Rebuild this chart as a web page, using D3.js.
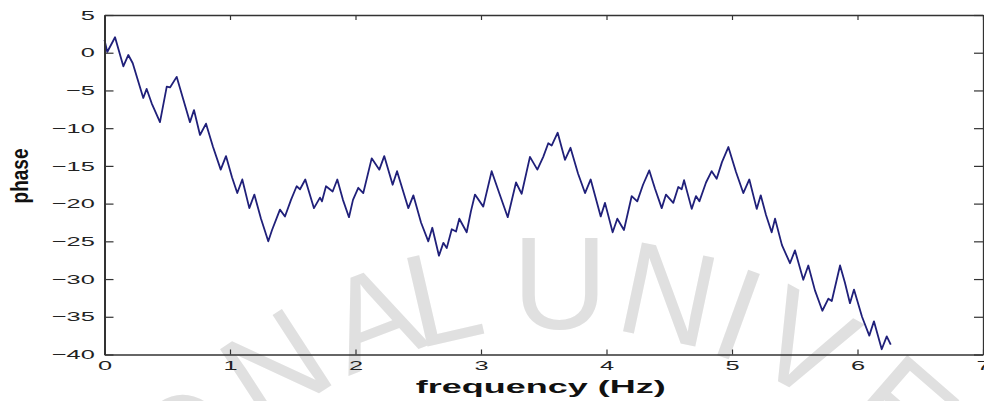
<!DOCTYPE html>
<html>
<head>
<meta charset="utf-8">
<script src="https://cdn.jsdelivr.net/npm/d3@7"></script>
<style>
  html, body { margin: 0; padding: 0; background: #fff; }
  svg { display: block; font-family: "Liberation Sans", Arial, sans-serif; }
</style>
</head>
<body>
<svg id="chart" width="984" height="401"></svg>
<script>
// ---- data ----
const freq = [
  0.000, 0.022, 0.084, 0.150, 0.190, 0.225, 0.309, 0.336, 0.376, 0.442,
  0.496, 0.522, 0.575, 0.628, 0.681, 0.713, 0.761, 0.809, 0.865, 0.926,
  0.968, 1.016, 1.058, 1.098, 1.154, 1.194, 1.247, 1.305, 1.335, 1.398,
  1.438, 1.486, 1.531, 1.558, 1.600, 1.669, 1.717, 1.733, 1.765, 1.818,
  1.855, 1.900, 1.948, 1.980, 2.022, 2.062, 2.129, 2.190, 2.229, 2.296,
  2.331, 2.421, 2.461, 2.522, 2.580, 2.612, 2.665, 2.700, 2.727, 2.767,
  2.801, 2.827, 2.886, 2.920, 2.952, 3.018, 3.085, 3.143, 3.213, 3.279,
  3.324, 3.390, 3.449, 3.496, 3.536, 3.563, 3.611, 3.669, 3.713, 3.773,
  3.829, 3.874, 3.954, 3.988, 4.049, 4.086, 4.139, 4.201, 4.245, 4.291,
  4.341, 4.386, 4.440, 4.474, 4.532, 4.572, 4.599, 4.618, 4.679, 4.713,
  4.740, 4.793, 4.838, 4.878, 4.920, 4.971, 5.032, 5.090, 5.138, 5.197,
  5.229, 5.271, 5.316, 5.343, 5.398, 5.462, 5.502, 5.568, 5.608, 5.661,
  5.720, 5.768, 5.795, 5.861, 5.900, 5.940, 5.972, 6.036, 6.094, 6.131,
  6.193, 6.233, 6.265
];
const phase = [
  1.7, 0.1, 2.05, -1.8, -0.3, -1.4, -6.0, -4.8, -6.7, -9.2,
  -4.5, -4.6, -3.2, -6.2, -9.2, -7.6, -10.9, -9.4, -12.5, -15.5,
  -13.7, -16.5, -18.6, -16.8, -20.6, -18.8, -22.0, -25.0, -23.5, -20.8,
  -21.7, -19.5, -17.7, -18.1, -16.8, -20.6, -19.2, -19.7, -17.7, -18.4,
  -16.8, -19.5, -21.8, -19.5, -17.9, -18.6, -14.0, -15.5, -13.7, -17.5,
  -15.7, -20.6, -18.9, -22.5, -25.0, -23.2, -26.9, -25.2, -25.9, -23.4,
  -23.7, -22.0, -23.8, -21.0, -18.8, -20.4, -15.7, -18.5, -21.8, -17.2,
  -18.7, -13.8, -15.5, -13.8, -12.0, -12.3, -10.6, -14.2, -12.6, -16.0,
  -18.6, -16.8, -21.7, -19.9, -23.8, -22.0, -23.5, -19.0, -19.7, -17.5,
  -15.6, -18.0, -20.6, -18.8, -19.9, -17.8, -18.1, -16.9, -20.7, -19.0,
  -19.7, -17.2, -15.7, -16.7, -14.5, -12.5, -15.8, -18.6, -16.8, -20.7,
  -18.9, -21.5, -23.8, -22.0, -25.5, -27.9, -26.2, -30.1, -28.2, -31.5,
  -34.2, -32.6, -32.9, -28.2, -30.5, -33.2, -31.4, -35.0, -37.5, -35.6,
  -39.3, -37.6, -38.7
];
const xTicks = [0, 1, 2, 3, 4, 5, 6, 7];
const yTicks = [5, 0, -5, -10, -15, -20, -25, -30, -35, -40];
const xLabel = "frequency (Hz)";
const yLabel = "phase";
const watermark = ["O", "N", "A", "L", "U", "N", "I", "V", "E"];
const watermarkAngles = [-46, -33, -21, -13, 0, 12, 20, 28, 41];

// ---- layout ----
const svg = d3.select("#chart");
const L = 104.5, R = 983, T = 15, B = 354.5;
const SX = 1.95; // horizontal stretch of the text in the picture

const x = d3.scaleLinear().domain([0, 7]).range([L, R]);
const y = d3.scaleLinear().domain([-40, 5]).range([B, T]);

// ---- watermark ----
const wm = svg.append("g");
const cx = 560, cy = 805, rad = 522;
watermark.forEach((ch, i) => {
  const a = watermarkAngles[i] * Math.PI / 180;
  const px = cx + rad * Math.sin(a), py = cy - rad * Math.cos(a);
  wm.append("text")
    .attr("transform", `translate(${px},${py}) rotate(${watermarkAngles[i]})`)
    .attr("text-anchor", "middle")
    .attr("dominant-baseline", "central")
    .attr("font-size", 132)
    .attr("fill", "#e0e0e0")
    .text(ch);
});

// ---- line ----
const pts = freq.map((f, i) => [f, phase[i]]);
const line = d3.line().x(d => x(d[0])).y(d => y(d[1]));
svg.append("path")
  .datum(pts)
  .attr("d", line)
  .attr("fill", "none")
  .attr("stroke", "#20207a")
  .attr("stroke-width", 1.8)
  .attr("stroke-linejoin", "round");

// ---- axes ----
const axColor = "#333";
const gL = svg.append("g").attr("transform", `translate(${L},0)`)
  .call(d3.axisLeft(y).tickValues(yTicks).tickSizeInner(-9).tickSizeOuter(0).tickPadding(5));
gL.selectAll("text")
  .attr("transform", `scale(${SX},1)`)
  .attr("x", -5)
  .attr("font-size", 13)
  .attr("font-family", "Liberation Sans, Arial, sans-serif")
  .attr("fill", "#222");

const gB = svg.append("g").attr("transform", `translate(0,${B})`)
  .call(d3.axisBottom(x).tickValues(xTicks).tickSizeInner(-5).tickSizeOuter(0).tickPadding(6).tickFormat(d3.format("d")));
gB.selectAll("text")
  .attr("transform", `scale(${SX},1)`)
  .attr("font-size", 13)
  .attr("font-family", "Liberation Sans, Arial, sans-serif")
  .attr("fill", "#222");

const gT = svg.append("g").attr("transform", `translate(0,${T})`)
  .call(d3.axisTop(x).tickValues(xTicks).tickSizeInner(-5).tickSizeOuter(0).tickFormat(""));
const gR = svg.append("g").attr("transform", `translate(${R},0)`)
  .call(d3.axisRight(y).tickValues(yTicks).tickSizeInner(-9).tickSizeOuter(0).tickFormat(""));

[gL, gB, gT, gR].forEach(g => {
  g.selectAll("path.domain").attr("stroke", axColor).attr("stroke-width", 1.3);
  g.selectAll(".tick line").attr("stroke", axColor).attr("stroke-width", 1.2);
});
gL.select("path.domain").attr("stroke-width", 2);
gB.select("path.domain").attr("stroke-width", 1.6);

// ---- axis titles ----
svg.append("text")
  .attr("transform", `translate(${(L + R) / 2 - 3},393) scale(2.0,1)`)
  .attr("text-anchor", "middle")
  .attr("font-size", 18)
  .attr("font-weight", "bold")
  .attr("fill", "#111")
  .text(xLabel);

svg.append("text")
  .attr("transform", `translate(28,176) scale(1.3,1) rotate(-90)`)
  .attr("text-anchor", "middle")
  .attr("font-size", 19)
  .attr("font-weight", "bold")
  .attr("fill", "#111")
  .text(yLabel);
</script>
</body>
</html>
